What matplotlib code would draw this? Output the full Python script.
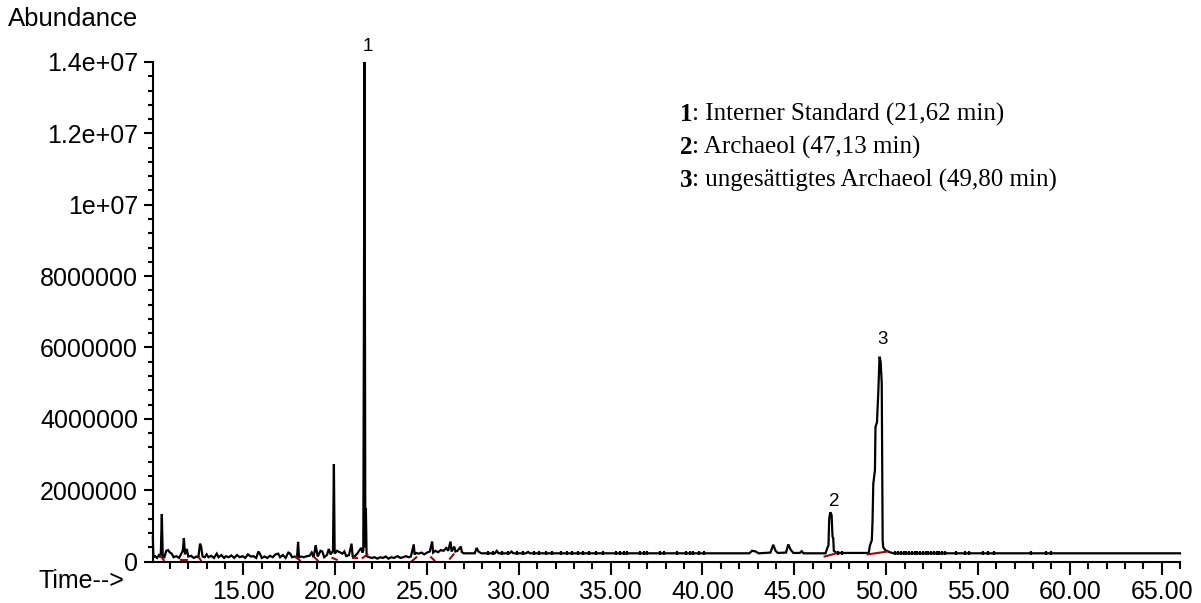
import numpy as np
import matplotlib
matplotlib.use("Agg")
import matplotlib.pyplot as plt
from matplotlib.ticker import FixedLocator, MultipleLocator

# -----------------------
# Data (abundance in millions)
# -----------------------
time_min = [
    10.07, 10.10, 10.20, 10.30, 10.40, 10.50, 10.56, 10.61, 10.70, 10.80,
    10.90, 11.00, 11.10, 11.20, 11.35, 11.50, 11.62, 11.70, 11.76, 11.82,
    11.92, 12.00, 12.15, 12.30, 12.45, 12.55, 12.64, 12.70, 12.78, 12.90,
    13.00, 13.10, 13.25, 13.40, 13.55, 13.65, 13.80, 13.95, 14.05, 14.20,
    14.35, 14.50, 14.65, 14.80, 14.95, 15.10, 15.25, 15.40, 15.55, 15.70,
    15.82, 15.90, 16.00, 16.15, 16.30, 16.45, 16.60, 16.75, 16.90, 17.00,
    17.15, 17.30, 17.45, 17.55, 17.65, 17.80, 17.92, 17.98, 18.03, 18.15,
    18.30, 18.45, 18.60, 18.72, 18.82, 18.94, 18.99, 19.05, 19.20, 19.30,
    19.40, 19.55, 19.65, 19.75, 19.88, 19.93, 19.97, 20.10, 20.25, 20.40,
    20.50, 20.60, 20.75, 20.89, 20.95, 21.05, 21.20, 21.30, 21.42, 21.48,
    21.53, 21.60, 21.64, 21.67, 21.71, 21.85, 22.00, 22.15, 22.30, 22.45,
    22.60, 22.75, 22.90, 23.05, 23.20, 23.40, 23.55, 23.70, 23.85, 24.00,
    24.12, 24.28, 24.32, 24.40, 24.55, 24.70, 24.85, 25.00, 25.15, 25.28,
    25.33, 25.45, 25.60, 25.75, 25.90, 26.05, 26.15, 26.28, 26.34, 26.48,
    26.55, 26.66, 26.84, 26.90, 27.00, 27.60, 27.70, 27.80, 27.95, 28.70,
    28.80, 28.90, 29.50, 29.60, 29.70, 30.40, 30.50, 30.60, 42.55, 42.70,
    42.90, 43.05, 43.70, 43.85, 43.98, 44.10, 44.55, 44.67, 44.80, 44.95,
    45.30, 45.40, 45.50, 46.70, 46.81, 46.86, 46.90, 46.96, 47.03, 47.08,
    47.12, 47.15, 47.30, 49.05, 49.12, 49.22, 49.26, 49.30, 49.39, 49.42,
    49.50, 49.57, 49.64, 49.70, 49.76, 49.81, 49.84, 49.95, 50.20, 50.40,
    66.00,
]
abundance_mio = [
    0.70, 0.12, 0.15, 0.10, 0.18, 0.12, 1.33, 0.14, 0.12, 0.30,
    0.32, 0.25, 0.22, 0.12, 0.15, 0.10, 0.22, 0.30, 0.65, 0.20,
    0.35, 0.14, 0.16, 0.10, 0.14, 0.12, 0.50, 0.42, 0.14, 0.12,
    0.20, 0.12, 0.16, 0.10, 0.22, 0.12, 0.18, 0.10, 0.15, 0.12,
    0.17, 0.10, 0.18, 0.12, 0.15, 0.10, 0.20, 0.14, 0.15, 0.10,
    0.28, 0.22, 0.10, 0.14, 0.10, 0.16, 0.12, 0.20, 0.22, 0.12,
    0.18, 0.10, 0.25, 0.22, 0.12, 0.14, 0.10, 0.55, 0.12, 0.14,
    0.12, 0.15, 0.16, 0.25, 0.12, 0.45, 0.30, 0.14, 0.30, 0.28,
    0.12, 0.18, 0.35, 0.20, 0.30, 2.73, 0.22, 0.30, 0.26, 0.22,
    0.28, 0.15, 0.18, 0.50, 0.15, 0.14, 0.22, 0.30, 0.38, 0.25,
    0.30, 14.00, 0.40, 1.50, 0.15, 0.12, 0.10, 0.12, 0.08, 0.12,
    0.10, 0.14, 0.08, 0.12, 0.10, 0.15, 0.10, 0.12, 0.15, 0.12,
    0.14, 0.48, 0.20, 0.24, 0.22, 0.25, 0.20, 0.25, 0.28, 0.56,
    0.25, 0.30, 0.26, 0.32, 0.30, 0.38, 0.30, 0.56, 0.28, 0.42,
    0.28, 0.30, 0.42, 0.26, 0.23, 0.23, 0.38, 0.28, 0.23, 0.23,
    0.30, 0.23, 0.23, 0.28, 0.23, 0.23, 0.27, 0.23, 0.23, 0.30,
    0.28, 0.23, 0.25, 0.47, 0.30, 0.24, 0.25, 0.48, 0.33, 0.24,
    0.24, 0.29, 0.23, 0.23, 0.40, 0.45, 1.20, 1.38, 1.30, 0.70,
    0.65, 0.30, 0.24, 0.24, 0.45, 0.60, 1.15, 2.18, 2.56, 3.77,
    3.90, 4.71, 5.74, 5.60, 5.00, 0.59, 0.40, 0.32, 0.26, 0.23,
    0.23,
]

# integration baselines (start time, start value, end time, end value)
base_t0 = [10.50, 11.62, 12.58, 17.88, 18.86, 19.85, 20.95, 21.50, 24.15, 25.22, 26.25, 46.65, 49.00]
base_a0 = [0.15, 0.03, 0.12, 0.12, 0.12, 0.10, 0.10, 0.10, 0.00, 0.12, 0.08, 0.14, 0.20]
base_t1 = [10.66, 11.94, 12.72, 18.08, 19.05, 20.08, 21.20, 21.75, 24.42, 25.40, 26.45, 47.30, 50.08]
base_a1 = [0.04, 0.03, 0.00, 0.03, 0.03, 0.05, 0.10, 0.20, 0.12, 0.03, 0.20, 0.23, 0.28]

# small integration ticks on the baseline
tick_times = [
    28.3, 28.6, 29.1, 29.4, 29.9, 30.2, 30.8, 31.1, 31.5, 31.8, 32.3, 32.6,
    32.9, 33.2, 33.5, 33.8, 34.2, 34.6, 35.3, 35.5, 35.7, 35.9, 36.6, 36.8,
    37.0, 37.7, 37.9, 38.6, 39.1, 39.3, 39.5, 39.8, 40.1, 47.4, 47.6, 50.5,
    50.65, 50.8, 50.95, 51.1, 51.25, 51.4, 51.55, 51.7, 51.85, 52.0, 52.15,
    52.3, 52.45, 52.6, 52.75, 52.9, 53.05, 53.2, 53.8, 54.3, 54.5, 55.3,
    55.55, 55.9, 57.9, 58.7, 59.0,
]
tick_level = 0.25

peak_labels = ["1", "2", "3"]
peak_times = [21.60, 47.03, 49.64]
peak_heights = [14.00, 1.38, 5.74]
label_offsets = [5, 1.5, 6]   # points above apex

legend_nums = ["1", "2", "3"]
legend_texts = [
    ": Interner Standard (21,62 min)",
    ": Archaeol (47,13 min)",
    ": ungesättigtes Archaeol (49,80 min)",
]

y_ticks = [0, 2e6, 4e6, 6e6, 8e6, 1e7, 1.2e7, 1.4e7]
y_tick_labels = ["0", "2000000", "4000000", "6000000", "8000000", "1e+07", "1.2e+07", "1.4e+07"]
x_ticks = [15, 20, 25, 30, 35, 40, 45, 50, 55, 60, 65]

# -----------------------
# Plot
# -----------------------
SANS = ["Liberation Sans", "DejaVu Sans"]
SERIF = ["Liberation Serif", "DejaVu Serif"]
FS = 18

fig = plt.figure(figsize=(12.01, 6.03), dpi=100)
ax = fig.add_axes([0.1271, 0.0688, 0.9825 - 0.1271, 0.8972 - 0.0688])

t = np.array(time_min)
a = np.array(abundance_mio) * 1e6
ax.plot(t, a, color="black", lw=1.6, solid_joinstyle="miter", clip_on=False)

for i in range(len(base_t0)):
    ax.plot([base_t0[i], base_t1[i]], [base_a0[i] * 1e6, base_a1[i] * 1e6],
            color="#9b0a0a", lw=1.5, clip_on=False)

ax.plot(tick_times, [tick_level * 1e6] * len(tick_times), ls="none",
        marker="|", ms=3, mew=1.6, color="black")

for lab, pt, ph, off in zip(peak_labels, peak_times, peak_heights, label_offsets):
    ax.annotate(lab, xy=(pt, ph * 1e6), xytext=(2, off), textcoords="offset points",
                ha="center", va="bottom", fontsize=13.5, family=SANS,
                annotation_clip=False)

ax.set_xlim(10.06, 66.0)
ax.set_ylim(0, 1.4e7)

ax.spines["top"].set_visible(False)
ax.spines["right"].set_visible(False)
ax.spines["left"].set_linewidth(1.5)
ax.spines["bottom"].set_linewidth(1.5)

ax.xaxis.set_major_locator(FixedLocator(x_ticks))
ax.xaxis.set_minor_locator(MultipleLocator(1))
ax.set_xticklabels([f"{v:.2f}" for v in x_ticks])
ax.yaxis.set_major_locator(FixedLocator(y_ticks))
ax.yaxis.set_minor_locator(MultipleLocator(4e5))
ax.set_yticklabels(y_tick_labels)

ax.tick_params(axis="x", which="major", length=9.5, width=1.5, pad=4, labelsize=FS)
ax.tick_params(axis="x", which="minor", length=5, width=1.5)
ax.tick_params(axis="y", which="major", length=6.5, width=1.5, pad=4, labelsize=FS)
ax.tick_params(axis="y", which="minor", length=3.6, width=1.5)
for lbl in ax.get_xticklabels() + ax.get_yticklabels():
    lbl.set_family(SANS)

fig.text(8 / 1201, 1 - 19 / 603, "Abundance", fontsize=FS + 0.5, family=SANS, va="center", ha="left")
fig.text(38 / 1201, 1 - 581 / 603, "Time-->", fontsize=FS, family=SANS, va="center", ha="left")

# legend with bold peak numbers, all on a common baseline per row
leg_baseline = [121, 154, 187]
bold_texts = []
for num, yy in zip(legend_nums, leg_baseline):
    bold_texts.append(fig.text(680 / 1201, 1 - yy / 603, num, fontsize=FS, family=SERIF,
                               weight="bold", va="baseline", ha="left"))
fig.canvas.draw()
renderer = fig.canvas.get_renderer()
for bt, txt, yy in zip(bold_texts, legend_texts, leg_baseline):
    x1 = bt.get_window_extent(renderer).x1 / fig.bbox.width
    fig.text(x1, 1 - yy / 603, txt, fontsize=FS, family=SERIF, va="baseline", ha="left")

fig.savefig("out.png", dpi=100)
plt.close(fig)
